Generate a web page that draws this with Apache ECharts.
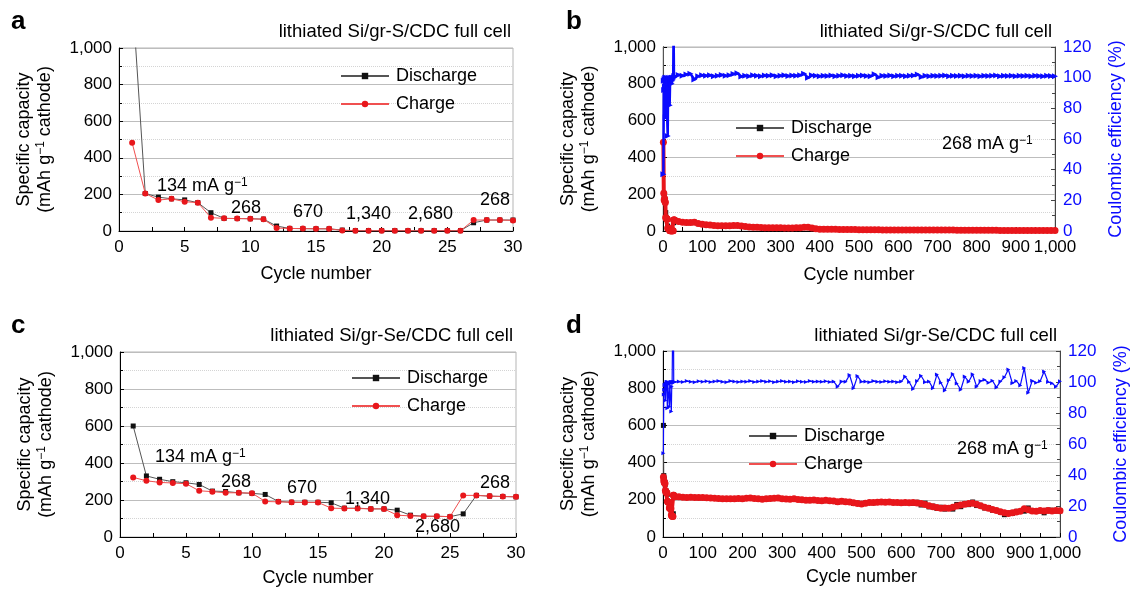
<!DOCTYPE html>
<html>
<head>
<meta charset="utf-8">
<script src="https://cdn.jsdelivr.net/npm/echarts@6/dist/echarts.min.js"></script>
<style>
html,body{margin:0;padding:0;background:#fff;}
#chart{width:1131px;height:589px;}
</style>
</head>
<body>
<div id="chart"></div>
<script>
// ---------- DATA ----------
const rateCycles = [1,2,3,4,5,6,7,8,9,10,11,12,13,14,15,16,17,18,19,20,21,22,23,24,25,26,27,28,29,30];
// Panel a: lithiated Si/gr-S/CDC full cell, rate test
const aDischarge = [1300,205,185,176,170,155,100,69,68,67,65,27,14,13,12,12,5,2,2,2,2,2,2,2,2,2,45,60,60,60];
const aCharge    = [482,205,169,176,160,155,73,69,68,67,64,16,14,13,12,12,3,1,1,1,1,1,1,1,1,1,60,60,60,58];
// Panel c: lithiated Si/gr-Se/CDC full cell, rate test
const cDischarge = [600,330,312,299,293,284,248,246,239,236,230,192,188,188,188,185,156,156,152,152,145,118,112,112,110,125,225,221,219,217];
const cCharge    = [322,304,295,292,288,250,245,239,239,237,192,190,188,187,187,156,154,154,152,152,118,114,112,112,110,225,225,221,219,217];
// Coulombic efficiency of the first 30 cycles (%)
const bCEEarly = [37,98,92,99,94,100,74,99,100,99,98,62,93,100,98,99,82,96,100,97,99,96,100,98,99,100,133,100,101,101];
const dCEEarly = [54,92,95,98,98,88,99,97,100,100,83,99,100,99,99,84,99,99,100,100,81,97,100,100,100,180,100,100,100,100];
// Long cycling at 268 mA/g, cycles 40..1000 every 10 cycles
const bChargeLong = [
  52,48,46,46,47,41,37,
  34,32,30,29,28,28,28,30,30,27,
  24,22,21,20,19,18,18,17,17,17,
  16,16,16,17,18,20,20,16,12,10,
  10,9,9,9,8,8,8,8,8,7,
  7,7,7,7,7,6,6,6,6,6,
  6,6,6,6,6,6,5,5,5,5,
  5,5,5,5,4,4,4,4,4,4,
  4,4,4,4,4,3,3,3,3,3,
  3,3,3,3,3,3,3,3,3,3];
const bDischargeLong = [
  51,47,45,45,48,40,36,
  34,31,30,29,28,27,28,29,29,27,
  24,22,21,20,19,18,18,17,17,17,
  16,16,16,16,18,19,20,16,12,10,
  10,9,9,9,8,8,8,8,8,7,
  7,7,7,7,7,6,6,6,6,6,
  6,6,6,6,6,6,5,5,5,5,
  5,5,5,5,4,4,4,4,4,4,
  4,4,4,4,4,3,3,3,3,3,
  3,3,3,3,3,3,3,3,3,3];
const bCELong = [
  101.8,101.2,102.0,102.5,98.8,101.0,101.5,
  101.2,101.6,101.0,101.3,101.8,101.2,101.5,102.4,102.8,100.8,
  101.3,101.0,101.5,101.2,101.0,101.4,101.2,101.6,101.0,101.3,
  101.5,101.1,101.4,101.2,101.6,102.6,99.9,101.5,101.2,101.0,
  101.3,101.1,101.4,101.0,101.2,101.5,101.1,101.3,101.0,101.2,
  101.4,101.1,101.0,102.3,100.2,101.3,101.1,101.4,101.0,101.2,
  101.3,101.0,101.2,101.4,102.1,100.4,101.2,101.0,101.3,101.1,
  101.2,101.4,101.0,101.3,101.1,101.2,101.0,101.3,101.1,101.2,
  101.0,101.3,101.1,101.2,101.4,101.0,101.2,101.1,101.3,101.0,
  101.2,101.1,101.3,101.0,101.2,101.1,101.0,101.2,101.1,101.0];
const dChargeLong = [
  216,214,213,214,213,212,212,
  211,210,208,207,206,205,206,205,207,206,
  208,210,207,205,203,205,207,208,210,206,
  204,203,205,202,200,198,197,199,196,195,
  197,195,193,190,192,190,188,184,180,178,
  182,185,185,187,188,187,188,186,186,184,
  186,184,186,183,180,175,168,163,158,155,
  156,154,160,166,172,176,180,182,176,168,
  160,154,148,142,136,130,127,130,134,138,
  152,146,140,138,142,140,143,140,142,141];
const dDischargeLong = [
  215,214,212,213,213,211,211,
  210,210,207,206,206,205,205,204,206,205,
  207,209,207,204,203,204,206,207,209,206,
  203,203,204,202,199,198,196,198,196,194,
  196,195,192,187,193,189,190,180,182,177,
  182,186,184,187,188,186,189,185,186,183,
  184,186,181,187,172,182,162,166,154,160,
  150,158,150,175,163,179,174,188,169,170,
  156,158,144,143,134,120,129,127,138,137,
  139,156,138,139,141,130,145,144,140,141];
const dCELong = [
  100.3,100.0,100.6,100.2,99.9,100.5,100.2,
  100.5,100.0,100.4,100.7,100.1,99.9,100.6,100.3,100.0,100.4,
  100.2,100.6,100.0,100.3,100.7,100.1,100.5,99.9,100.3,100.6,
  100.1,100.4,99.9,100.5,100.2,100.0,100.6,100.2,100.4,100.1,
  100.5,100.0,100.3,97.0,100.4,100.1,104.5,96.0,103.8,100.2,
  100.3,99.8,100.6,100.2,100.0,100.5,100.1,100.4,99.9,100.3,
  103.5,100.0,95.5,100.6,104.0,99.8,100.4,96.0,104.8,99.5,
  94.5,101.2,105.2,99.0,95.0,103.5,100.2,105.0,97.0,100.6,
  101.5,99.5,100.8,96.5,100.4,103.0,108.0,99.2,100.6,97.8,
  109.0,93.0,100.8,99.5,100.5,106.8,100.0,99.2,97.0,100.5];
const rateTicks = {min:0, max:30, interval:5};
const longTicks = {min:0, max:1000, interval:100};
const capTicks = {min:0, max:1000, interval:200};
const ceTicks = {min:0, max:120, interval:20};

// ---------- helpers ----------
const longCycles = [];
for (let c = 40; c <= 1000; c += 10) longCycles.push(c);
const pairs = (xs, ys) => xs.map((x, i) => [x, ys[i]]);

const FONT = 'Liberation Sans, Arial, Helvetica, sans-serif';
const RED = '#e8161b', BLACK = '#111', BLUE = '#0a0aff';
const fmt = v => v.toLocaleString('en-US');
const supRich = {sup: {fontSize: 12, verticalAlign: 'top', lineHeight: 14, fontFamily: FONT, color: '#000'}};

const grids = [
  {left: 119, top: 48, width: 394, height: 183},
  {left: 663, top: 47, width: 392, height: 184},
  {left: 120, top: 352, width: 396, height: 185},
  {left: 663, top: 351, width: 397, height: 186}
].map(g => Object.assign({show: true, borderColor: '#b5b5b5', borderWidth: 1, backgroundColor: '#fff'}, g));

function xAxis(gi, t, gap) {
  return Object.assign({
    type: 'value', gridIndex: gi,
    axisLine: {show: true, onZero: false, lineStyle: {color: '#000', width: 1}},
    axisTick: {show: true, inside: true, length: 4, lineStyle: {color: '#000'}},
    minorTick: {show: true, splitNumber: 2, length: 4, lineStyle: {color: '#000'}},
    splitLine: {show: false},
    axisLabel: {fontSize: 17, fontFamily: FONT, color: '#000', margin: 8, formatter: fmt},
    name: 'Cycle number', nameLocation: 'middle', nameGap: gap,
    nameTextStyle: {fontSize: 18, fontFamily: FONT, color: '#000'}
  }, t);
}
function capAxis(gi) {
  return Object.assign({
    type: 'value', gridIndex: gi, position: 'left',
    axisLine: {show: true, onZero: false, lineStyle: {color: '#000', width: 1}},
    axisTick: {show: true, inside: true, length: 4, lineStyle: {color: '#000'}},
    minorTick: {show: true, splitNumber: 2, length: 3, lineStyle: {color: '#000'}},
    splitLine: {show: true, lineStyle: {color: '#bdbdbd', width: 1}},
    minorSplitLine: {show: true, lineStyle: {color: '#d4d4d4', type: 'dotted', width: 1}},
    axisLabel: {fontSize: 17, fontFamily: FONT, color: '#000', margin: 7, formatter: fmt},
    name: 'Specific capacity\n(mAh g{sup|−1} cathode)', nameLocation: 'middle', nameGap: 63, nameRotate: 90,
    nameTextStyle: {fontSize: 18, fontFamily: FONT, color: '#000', lineHeight: 21, rich: supRich}
  }, capTicks);
}
function ceAxis(gi) {
  return Object.assign({
    type: 'value', gridIndex: gi, position: 'right',
    axisLine: {show: true, onZero: false, lineStyle: {color: '#444', width: 1}},
    axisTick: {show: true, inside: true, length: 4, lineStyle: {color: '#444'}},
    minorTick: {show: true, splitNumber: 2, length: 3, lineStyle: {color: '#444'}},
    splitLine: {show: false},
    axisLabel: {fontSize: 17, fontFamily: FONT, color: BLUE, margin: 8},
    name: 'Coulombic efficiency (%)', nameLocation: 'middle', nameGap: 52, nameRotate: 90,
    nameTextStyle: {fontSize: 18, fontFamily: FONT, color: BLUE}
  }, ceTicks);
}

function rateSeries(xi, yi, dis, chg) {
  return [
    {name: 'Discharge', type: 'line', xAxisIndex: xi, yAxisIndex: yi, data: pairs(rateCycles, dis),
     symbol: 'rect', symbolSize: 5, itemStyle: {color: BLACK}, lineStyle: {color: '#555', width: 1}, z: 3, animation: false},
    {name: 'Charge', type: 'line', xAxisIndex: xi, yAxisIndex: yi, data: pairs(rateCycles, chg),
     symbol: 'circle', symbolSize: 6, itemStyle: {color: RED}, lineStyle: {color: '#f05050', width: 1}, z: 4, animation: false}
  ];
}
function longSeries(xi, yi, yce, dis, chg, disL, chgL, ceE, ceL, ceSym, ceW) {
  return [
    {name: 'Discharge', type: 'line', xAxisIndex: xi, yAxisIndex: yi,
     data: pairs(rateCycles, dis).concat(pairs(longCycles, disL)),
     symbol: 'rect', symbolSize: 5, itemStyle: {color: BLACK}, lineStyle: {color: '#555', width: 1}, z: 3, animation: false},
    {name: 'Charge', type: 'line', xAxisIndex: xi, yAxisIndex: yi,
     data: pairs(rateCycles, chg).concat(pairs(longCycles, chgL)),
     symbol: 'circle', symbolSize: 7, itemStyle: {color: RED}, lineStyle: {color: RED, width: 4}, z: 4, animation: false},
    {name: 'CE', type: 'line', xAxisIndex: xi, yAxisIndex: yce,
     data: pairs(rateCycles, ceE).concat(pairs(longCycles, ceL)),
     symbol: 'triangle', symbolRotate: -90, symbolSize: ceSym, itemStyle: {color: BLUE}, lineStyle: {color: BLUE, width: ceW}, z: 5, animation: false}
  ];
}

function legend(left, top) {
  return {left: left, top: top, orient: 'vertical', itemWidth: 48, itemHeight: 8, itemGap: 10,
    data: ['Discharge', 'Charge'], selectedMode: false,
    textStyle: {fontSize: 18, fontFamily: FONT, color: '#000', lineHeight: 18, padding: [0, 0, 0, 2]}};
}

function txt(x, y, text, align, size) {
  return {type: 'text', x: x, y: y, z: 100, silent: true,
    style: {text: text, fontSize: size || 18, fontFamily: FONT, fill: '#000', align: align || 'left', textAlign: align || 'left',
      verticalAlign: 'middle', textVerticalAlign: 'middle', rich: {sup: {fontSize: 12, verticalAlign: 'top', lineHeight: 12, fontFamily: FONT, fill: '#000'}}}};
}
function letter(x, y, t) {
  return {type: 'text', x: x, y: y, z: 100, style: {text: t, fontSize: 26, fontWeight: 'bold', fontFamily: FONT, fill: '#000', verticalAlign: 'middle', textVerticalAlign: 'middle'}};
}

const chart = echarts.init(document.getElementById('chart'), null, {renderer: 'canvas'});
chart.setOption({
  backgroundColor: '#fff',
  animation: false,
  grid: grids,
  xAxis: [xAxis(0, rateTicks, 34), xAxis(1, longTicks, 35), xAxis(2, rateTicks, 32), xAxis(3, longTicks, 31)],
  yAxis: [capAxis(0), capAxis(1), ceAxis(1), capAxis(2), capAxis(3), ceAxis(3)],
  legend: [legend(335, 62), legend(730, 114), legend(346, 364), legend(743, 422)],
  series: [].concat(
    rateSeries(0, 0, aDischarge, aCharge),
    longSeries(1, 1, 2, aDischarge, aCharge, bDischargeLong, bChargeLong, bCEEarly, bCELong, 6, 2.5),
    rateSeries(2, 3, cDischarge, cCharge),
    longSeries(3, 4, 5, cDischarge, cCharge, dDischargeLong, dChargeLong, dCEEarly, dCELong, 4, 1.2)
  ),
  graphic: [
    letter(11, 22, 'a'), letter(566, 22, 'b'), letter(11, 326, 'c'), letter(566, 326, 'd'),
    txt(511, 32, 'lithiated Si/gr-S/CDC full cell', 'right', 18.5),
    txt(1052, 32, 'lithiated Si/gr-S/CDC full cell', 'right', 18.5),
    txt(513, 336, 'lithiated Si/gr-Se/CDC full cell', 'right', 18.5),
    txt(1057, 336, 'lithiated Si/gr-Se/CDC full cell', 'right', 18.5),
    // panel a rate labels
    txt(157, 186, '134 mA g{sup|−1}'),
    txt(231, 208, '268'), txt(293, 212, '670'), txt(346, 214, '1,340'), txt(408, 214, '2,680'), txt(480, 200, '268'),
    // panel c rate labels
    txt(155, 457, '134 mA g{sup|−1}'),
    txt(221, 482, '268'), txt(287, 488, '670'), txt(345, 499, '1,340'), txt(415, 527, '2,680'), txt(480, 483, '268'),
    // long cycling labels
    txt(942, 144, '268 mA g{sup|−1}'),
    txt(957, 449, '268 mA g{sup|−1}')
  ]
});
</script>
</body>
</html>
